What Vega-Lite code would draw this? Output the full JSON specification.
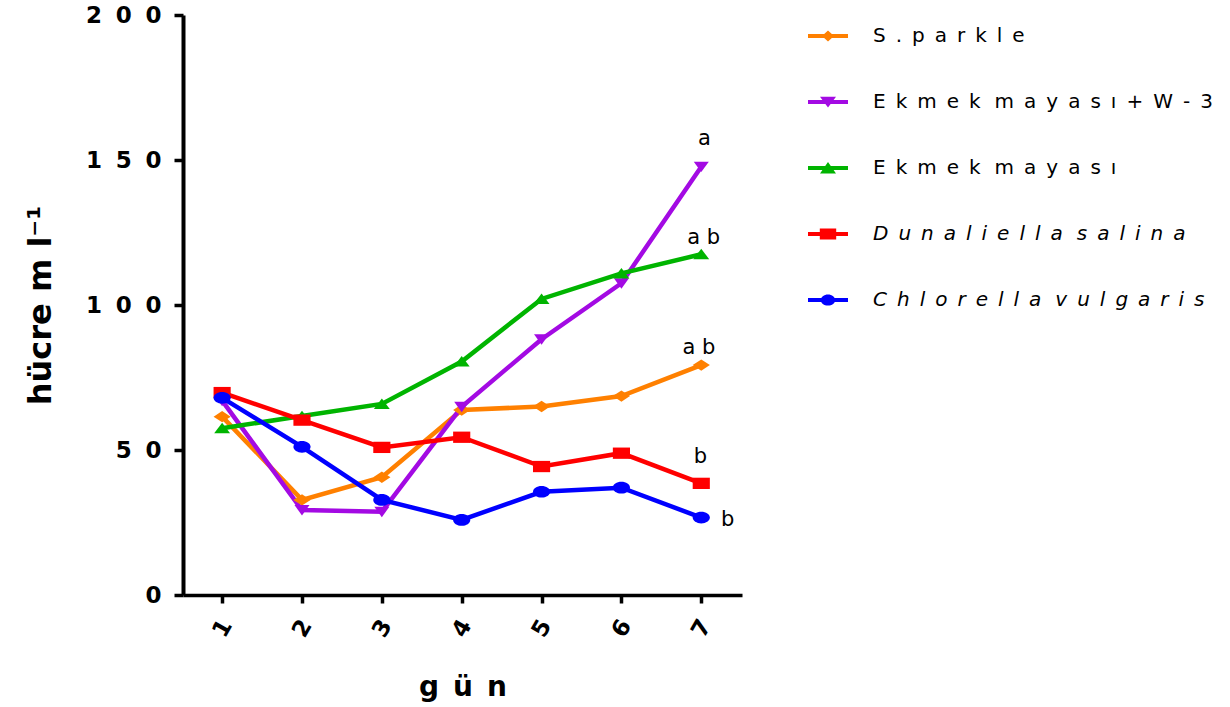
{
  "$schema": "https://vega.github.io/schema/vega-lite/v6.json",
  "width": 559,
  "height": 580,
  "padding": {"left": 24, "top": 4, "right": 0, "bottom": 0},
  "autosize": {"type": "pad"},
  "background": "white",
  "config": {"view": {"stroke": null}, "font": "DejaVu Sans"},
  "data": {"values": [
    {"day": 1, "series": "S.parkle", "value": 61.5},
    {"day": 2, "series": "S.parkle", "value": 32.8},
    {"day": 3, "series": "S.parkle", "value": 40.6},
    {"day": 4, "series": "S.parkle", "value": 63.8},
    {"day": 5, "series": "S.parkle", "value": 65.0},
    {"day": 6, "series": "S.parkle", "value": 68.6},
    {"day": 7, "series": "S.parkle", "value": 79.3},
    {"day": 1, "series": "Ekmek mayası+W-3", "value": 67.0},
    {"day": 2, "series": "Ekmek mayası+W-3", "value": 29.3},
    {"day": 3, "series": "Ekmek mayası+W-3", "value": 28.7},
    {"day": 4, "series": "Ekmek mayası+W-3", "value": 64.9},
    {"day": 5, "series": "Ekmek mayası+W-3", "value": 88.2},
    {"day": 6, "series": "Ekmek mayası+W-3", "value": 107.5},
    {"day": 7, "series": "Ekmek mayası+W-3", "value": 147.7},
    {"day": 1, "series": "Ekmek mayası", "value": 57.5},
    {"day": 2, "series": "Ekmek mayası", "value": 61.7},
    {"day": 3, "series": "Ekmek mayası", "value": 65.9},
    {"day": 4, "series": "Ekmek mayası", "value": 80.5},
    {"day": 5, "series": "Ekmek mayası", "value": 102.1},
    {"day": 6, "series": "Ekmek mayası", "value": 110.9},
    {"day": 7, "series": "Ekmek mayası", "value": 117.5},
    {"day": 1, "series": "Dunaliella salina", "value": 69.8},
    {"day": 2, "series": "Dunaliella salina", "value": 60.3},
    {"day": 3, "series": "Dunaliella salina", "value": 50.9},
    {"day": 4, "series": "Dunaliella salina", "value": 54.4},
    {"day": 5, "series": "Dunaliella salina", "value": 44.3},
    {"day": 6, "series": "Dunaliella salina", "value": 48.9},
    {"day": 7, "series": "Dunaliella salina", "value": 38.5},
    {"day": 1, "series": "Chlorella vulgaris", "value": 68.0},
    {"day": 2, "series": "Chlorella vulgaris", "value": 51.1},
    {"day": 3, "series": "Chlorella vulgaris", "value": 32.8},
    {"day": 4, "series": "Chlorella vulgaris", "value": 25.9},
    {"day": 5, "series": "Chlorella vulgaris", "value": 35.6},
    {"day": 6, "series": "Chlorella vulgaris", "value": 37.0},
    {"day": 7, "series": "Chlorella vulgaris", "value": 26.7}
  ]},
  "encoding": {
    "x": {
      "field": "day", "type": "quantitative",
      "scale": {"domain": [0.51, 7.51], "nice": false, "zero": false},
      "axis": {
        "title": "g\u2002ü\u2002n",
        "values": [1, 2, 3, 4, 5, 6, 7],
        "grid": false,
        "domainColor": "black", "domainWidth": 3.5,
        "tickColor": "black", "tickWidth": 3.5, "tickSize": 8,
        "labelFont": "DejaVu Sans", "labelFontWeight": "bold", "labelFontSize": 23, "labelColor": "black",
        "labelAngle": -60, "labelAlign": "center", "labelBaseline": "middle", "labelPadding": 25,
        "titleFont": "DejaVu Sans", "titleFontWeight": "bold", "titleFontSize": 28, "titleColor": "black", "titlePadding": 33
      }
    },
    "y": {
      "field": "value", "type": "quantitative",
      "scale": {"domain": [0, 200], "nice": false},
      "axis": {
        "title": "hücre m l⁻¹",
        "values": [0, 50, 100, 150, 200],
        "grid": false,
        "domainColor": "black", "domainWidth": 4,
        "tickColor": "black", "tickWidth": 3.5, "tickSize": 9,
        "labelFont": "DejaVu Sans", "labelFontWeight": "bold", "labelFontSize": 23, "labelColor": "black",
        "labelPadding": 13,
        "labelExpr": "replace(datum.label, regexp('(\\\\d)(?=\\\\d)', 'g'), '$1\u2002\u200a')",
        "titleFont": "DejaVu Sans", "titleFontWeight": "bold", "titleFontSize": 32, "titleColor": "black", "titlePadding": 28
      }
    }
  },
  "layer": [
    {
      "mark": {"type": "line", "strokeWidth": 4.5},
      "encoding": {
        "color": {
          "field": "series", "type": "nominal",
          "scale": {
            "domain": ["S.parkle", "Ekmek mayası+W-3", "Ekmek mayası", "Dunaliella salina", "Chlorella vulgaris"],
            "range": ["#FF8000", "#A30AE3", "#00B400", "#FF0000", "#0000FF"]
          },
          "legend": {
            "title": null,
            "orient": "right",
            "offset": 65,
            "padding": 11,
            "symbolSize": 64,
            "labelOffset": 35,
            "rowPadding": 46,
            "labelLimit": 0,
            "labelFont": "DejaVu Sans",
            "labelFontSize": 20,
            "labelColor": "black",
            "labelExpr": "replace(replace(datum.label, regexp('(\\\\S)(?=\\\\S)', 'g'), '$1\u2002'), ' ', '\u2002\u2009')",
            "encode": {
              "labels": {
                "update": {
                  "fontStyle": [
                    {"test": "datum.value === 'Dunaliella salina' || datum.value === 'Chlorella vulgaris'", "value": "italic"},
                    {"value": "normal"}
                  ]
                }
              },
              "symbols": {
                "update": {
                  "shape": [
                    {"test": "datum.value === 'S.parkle'", "value": "M-5,-0.5H5V0.5H-5Z M0,-1.4L1.5,0L0,1.4L-1.5,0Z"},
                    {"test": "datum.value === 'Ekmek mayası+W-3'", "value": "M-5,-0.5H5V0.5H-5Z M-2,-1.3H2L0,1.4Z"},
                    {"test": "datum.value === 'Ekmek mayası'", "value": "M-5,-0.5H5V0.5H-5Z M0,-1.5L2,1.4H-2Z"},
                    {"test": "datum.value === 'Dunaliella salina'", "value": "M-5,-0.5H5V0.5H-5Z M-2.05,-1.4H2.05V1.4H-2.05Z"},
                    {"value": "M-5,-0.5H5V0.5H-5Z M-1.8,0A1.8,1.4 0 1,1 1.8,0A1.8,1.4 0 1,1 -1.8,0Z"}
                  ],
                  "fill": {"scale": "color", "field": "value"},
                  "stroke": {"value": "transparent"},
                  "strokeWidth": {"value": 0},
                  "opacity": {"value": 1}
                }
              }
            }
          }
        }
      }
    },
    {
      "mark": {"type": "point", "filled": true, "size": 70, "opacity": 1, "strokeWidth": 0},
      "encoding": {
        "color": {"field": "series", "type": "nominal"},
        "shape": {
          "field": "series", "type": "nominal",
          "scale": {
            "domain": ["Chlorella vulgaris", "Dunaliella salina", "Ekmek mayası", "Ekmek mayası+W-3", "S.parkle"],
            "range": [
              "M-2.05,0A2.05,1.4 0 1,1 2.05,0A2.05,1.4 0 1,1 -2.05,0Z",
              "M-2.05,-1.35H2.05V1.35H-2.05Z",
              "M0,-1.3L1.9,1.2H-1.9Z",
              "M-1.8,-1.2H1.8L0,1.3Z",
              "M0,-1.35L2.05,0L0,1.35L-2.05,0Z"
            ]
          },
          "legend": null
        }
      }
    },
    {
      "data": {"values": [
        {"day": 7.04, "value": 157.2, "label": "a"},
        {"day": 7.03, "value": 123.1, "label": "a b"},
        {"day": 6.97, "value": 85.3, "label": "a b"},
        {"day": 6.99, "value": 47.6, "label": "b"},
        {"day": 7.33, "value": 25.9, "label": "b"}
      ]},
      "mark": {"type": "text", "font": "DejaVu Sans", "fontSize": 21, "color": "black", "align": "center", "baseline": "middle"},
      "encoding": {
        "text": {"field": "label", "type": "nominal"}
      }
    }
  ]
}
